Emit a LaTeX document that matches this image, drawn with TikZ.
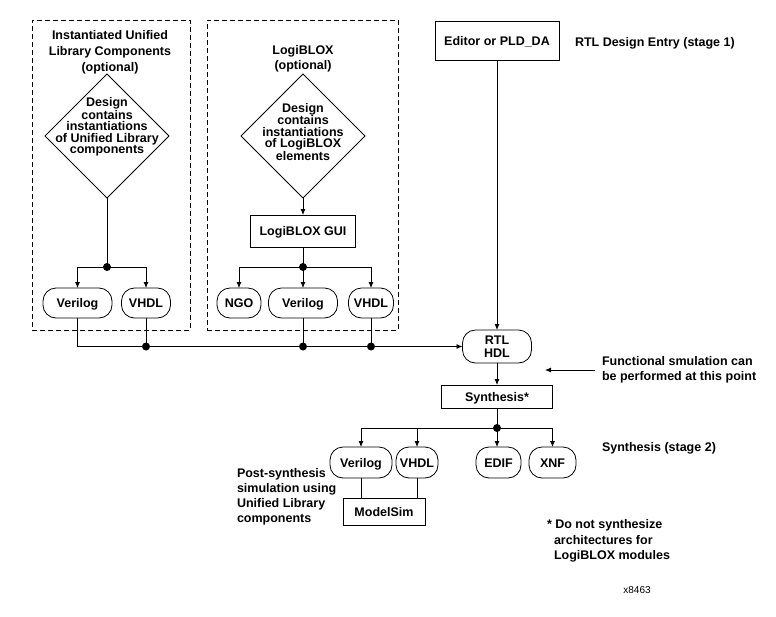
\documentclass[tikz,border=0pt]{standalone}
\usepackage{fontspec}
\setmainfont{Liberation Sans}
\usetikzlibrary{shapes.geometric,arrows.meta}
\begin{document}
\begin{tikzpicture}[x=1pt,y=-1pt,
  every node/.style={inner sep=0pt, outer sep=0pt},
  txt/.style={font=\fontsize{12.5}{15}\bfseries\selectfont, align=center},
  sqbase/.style={draw, line width=0.8pt, font=\fontsize{12.5}{13}\bfseries\selectfont, align=center},
  sqbox/.style={sqbase, text height=9pt, text depth=0pt},
  pillbase/.style={draw, line width=0.8pt, rounded corners=13pt, minimum height=30pt, font=\fontsize{12.5}{13}\bfseries\selectfont},
  pill/.style={pillbase, text height=9pt, text depth=0pt},
  dashbox/.style={draw, line width=0.8pt, dash pattern=on 5pt off 3pt},
  dia/.style={draw, diamond, line width=0.8pt, minimum width=124pt, minimum height=124pt},
  diatxt/.style={font=\fontsize{12.5}{11.5}\bfseries\selectfont, align=center},
  conn/.style={line width=0.8pt},
  arr/.style={conn, -{Latex[length=6pt,width=5pt]}},
  jdot/.style={circle, fill, minimum size=8pt}]
\useasboundingbox[fill=white] (0,0) rectangle (776,616);

% dashed groups
\node[dashbox, minimum width=158pt, minimum height=310pt] (lbox) at (111,175) {};
\node[dashbox, minimum width=191pt, minimum height=310pt] (mbox) at (302.5,175) {};

% left group
\node[txt, font=\fontsize{12.5}{16}\bfseries\selectfont] (ltitle) at (110,52) {Instantiated Unified\\Library Components\\(optional)};
\node[dia] (ld) at (107,136) {};
\node[diatxt] (ldt) at (107,127) {Design\\contains\\instantiations\\of Unified Library\\components};
\node[jdot] (ldot) at (107,267) {};
\node[pill, minimum width=69pt] (lv) at (77.5,303) {Verilog};
\node[pill, minimum width=49pt] (lh) at (146,303) {VHDL};

% middle group
\node[txt] (mtitle) at (303,58.5) {LogiBLOX\\(optional)};
\node[dia] (md) at (303,136) {};
\node[diatxt] (mdt) at (303,132) {Design\\contains\\instantiations\\of LogiBLOX\\elements};
\node[sqbox, minimum width=105pt, minimum height=32pt] (gui) at (303,231) {LogiBLOX GUI};
\node[jdot] (mdot) at (303,267) {};
\node[pill, minimum width=44pt] (ngo) at (239,303) {NGO};
\node[pill, minimum width=69pt] (mv) at (303,303) {Verilog};
\node[pill, minimum width=45pt] (mh) at (371,303) {VHDL};

% main column
\node[sqbox, minimum width=124pt, minimum height=39pt] (ed) at (497,41) {Editor or PLD\_DA};
\node[pillbase, minimum width=69pt, minimum height=33pt, align=center] (rtl) at (497,346.5) {RTL\\HDL};
\node[sqbox, minimum width=111pt, minimum height=23pt] (syn) at (497,396.5) {Synthesis*};
\node[jdot] (sdot) at (497,428) {};
\node[pill, minimum width=62pt, minimum height=31pt] (v2) at (361,462.5) {Verilog};
\node[pill, minimum width=42pt, minimum height=31pt] (h2) at (417,462.5) {VHDL};
\node[pill, minimum width=45pt, minimum height=31pt] (edif) at (498.5,462.5) {EDIF};
\node[pill, minimum width=47pt, minimum height=31pt] (xnf) at (552.5,462.5) {XNF};
\node[sqbox, minimum width=82pt, minimum height=27pt] (ms) at (384,511.5) {ModelSim};

% bottom junction dots
\node[jdot] (b1) at (lh.south |- rtl.west) {};
\node[jdot] (b2) at (mv.south |- rtl.west) {};
\node[jdot] (b3) at (mh.south |- rtl.west) {};

% annotations
\node[txt, anchor=west] (t1) at (575,43) {RTL Design Entry (stage 1)};
\node[txt, anchor=west, align=left, font=\fontsize{12.5}{15.5}\bfseries\selectfont] (t2) at (602,370) {Functional smulation can\\be performed at this point};
\node[txt, anchor=west] (t3) at (602,448) {Synthesis (stage 2)};
\node[txt, anchor=west, align=left] (t4) at (237,497) {Post-synthesis\\simulation using\\Unified Library\\components};
\node[txt, anchor=west, align=left, font=\fontsize{12.5}{15.5}\bfseries\selectfont] (t5) at (547,541) {* Do not synthesize\\\hspace*{7pt}architectures for\\\hspace*{7pt}LogiBLOX modules};
\node[font=\fontsize{10}{12}\selectfont] (t6) at (637,590) {x8463};
\coordinate (fb) at (545,370);

% connectors: left group
\draw[conn] (ld.south) -- (ldot.center);
\draw[arr] (ldot.center) -| (lv.north);
\draw[arr] (ldot.center) -| (lh.north);
% middle group
\draw[arr] (md.south) -- (gui.north);
\draw[conn] (gui.south) -- (mdot.center);
\draw[arr] (mdot.center) -| (ngo.north);
\draw[arr] (mdot.center) -- (mv.north);
\draw[arr] (mdot.center) -| (mh.north);
% collection bus
\draw[arr] (lv.south) |- (rtl.west);
\draw[conn] (lh.south) -- (b1.center);
\draw[conn] (mv.south) -- (b2.center);
\draw[conn] (mh.south) -- (b3.center);
% main column
\draw[arr] (ed.south) -- (rtl.north);
\draw[arr] (rtl.south) -- (syn.north);
\draw[conn] (syn.south) -- (sdot.center);
\draw[arr] (sdot.center) -| (v2.north);
\draw[arr] (sdot.center) -| (h2.north);
\draw[arr] (sdot.center) -- (edif.north -| sdot.center);
\draw[arr] (sdot.center) -| (xnf.north);
\draw[conn] (v2.south) -- (v2.south |- ms.north);
\draw[conn] (h2.south) -- (h2.south |- ms.north);
\draw[arr] ([xshift=-7pt]t2.west |- fb) -- (fb);
\end{tikzpicture}
\end{document}
